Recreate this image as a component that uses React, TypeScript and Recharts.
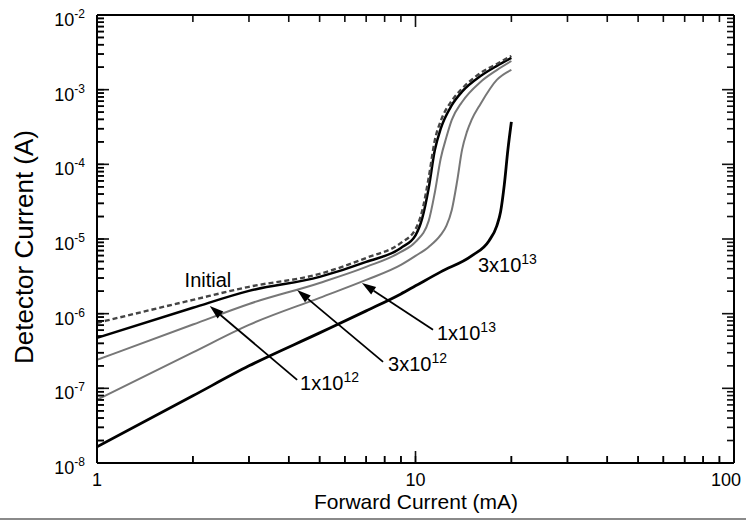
import React from 'react';
import { LineChart, Line, XAxis, YAxis, ReferenceLine, ReferenceDot, Customized } from 'recharts';

// Forward current (mA) and detector current (A) for each fluence
const initialX = [1, 2, 3, 5, 7, 9, 10, 10.5, 11, 11.5, 12, 13, 14, 16, 18, 20];
const initialY = [7.53e-7, 1.53e-6, 2.29e-6, 3.41e-6, 5.58e-6, 8.87e-6, 1.35e-5, 2.4e-5, 6.6e-5, 2.1e-4, 3.8e-4, 7.1e-4, 1.03e-3, 1.67e-3, 2.21e-3, 2.83e-3];

const f1e12X = [1, 2, 3, 5, 7, 9, 10, 10.5, 11, 11.5, 12, 13, 14, 16, 18, 20];
const f1e12Y = [4.74e-7, 1.2e-6, 2.02e-6, 3.11e-6, 4.93e-6, 7.6e-6, 1.12e-5, 1.9e-5, 4.8e-5, 1.55e-4, 3.0e-4, 6.2e-4, 9.4e-4, 1.52e-3, 2.08e-3, 2.66e-3];

const f3e12X = [1, 2, 3, 5, 7, 9, 10, 11, 11.5, 12, 12.5, 13, 14, 16, 18, 20];
const f3e12Y = [2.41e-7, 7.15e-7, 1.35e-6, 2.58e-6, 4.23e-6, 6.71e-6, 9.14e-6, 1.75e-5, 4.2e-5, 1.2e-4, 2.3e-4, 3.93e-4, 6.85e-4, 1.27e-3, 1.83e-3, 2.42e-3];

const f1e13X = [1, 2, 3, 5, 7, 9, 10, 11, 12, 12.5, 13, 13.5, 14, 14.5, 15, 16, 18, 20];
const f1e13Y = [7.02e-8, 3.03e-7, 7.08e-7, 1.63e-6, 2.83e-6, 4.5e-6, 5.94e-6, 7.84e-6, 1.135e-5, 1.5e-5, 2.45e-5, 5.81e-5, 1.56e-4, 2.72e-4, 3.93e-4, 6.44e-4, 1.35e-3, 1.84e-3];

const f3e13X = [1, 2, 3, 5, 7, 9, 10, 12, 15, 17, 18, 18.5, 19, 19.5, 20];
const f3e13Y = [1.65e-8, 7.94e-8, 2.0e-7, 5.53e-7, 1.09e-6, 1.84e-6, 2.36e-6, 3.63e-6, 5.94e-6, 9.43e-6, 1.5e-5, 2.31e-5, 5.3e-5, 1.56e-4, 3.7e-4];

// Axis ticks
const xTicks = [1, 2, 3, 4, 5, 6, 7, 8, 9, 10, 20, 30, 40, 50, 60, 70, 80, 90, 100];
const yTicks = [
  1e-8, 2e-8, 3e-8, 4e-8, 5e-8, 6e-8, 7e-8, 8e-8, 9e-8,
  1e-7, 2e-7, 3e-7, 4e-7, 5e-7, 6e-7, 7e-7, 8e-7, 9e-7,
  1e-6, 2e-6, 3e-6, 4e-6, 5e-6, 6e-6, 7e-6, 8e-6, 9e-6,
  1e-5, 2e-5, 3e-5, 4e-5, 5e-5, 6e-5, 7e-5, 8e-5, 9e-5,
  1e-4, 2e-4, 3e-4, 4e-4, 5e-4, 6e-4, 7e-4, 8e-4, 9e-4,
  1e-3, 2e-3, 3e-3, 4e-3, 5e-3, 6e-3, 7e-3, 8e-3, 9e-3,
  1e-2,
];
const X_MIN = 1;
const X_MAX = 100;
const Y_MIN = 1e-8;
const Y_MAX = 1e-2;

// Annotations (data coordinates)
const labelMain = ['Initial', '1x10', '3x10', '1x10', '3x10'];
const labelSup = ['', '12', '12', '13', '13'];
const labelX = [2.23, 4.34, 8.2, 11.68, 15.7];
const labelY = [2.84e-6, 1.19e-7, 2.13e-7, 5.53e-7, 4.5e-6];
const labelAnchor = ['middle', 'start', 'start', 'start', 'start'];

const arrowTailX = [4.25, 7.91, 11.35];
const arrowTailY = [1.3e-7, 2.26e-7, 6.07e-7];
const arrowTipX = [2.26, 4.25, 6.79];
const arrowTipY = [1.27e-6, 2.08e-6, 2.58e-6];

const FONT = '"Liberation Sans", Arial, Helvetica, sans-serif';

const pts = (xs: number[], ys: number[]) => xs.map((x, i) => ({ x, y: ys[i] }));

const isMajor = (v: number) => {
  const l = Math.log10(v);
  return Math.abs(l - Math.round(l)) < 1e-6;
};

// tick-mark lengths expressed as multiplicative factors on the log axes
const PX_PER_DECADE_X = 318.5;
const PX_PER_DECADE_Y = 74.7;
const fx = (v: number) => Math.pow(10, (isMajor(v) ? 12 : 7) / PX_PER_DECADE_X);
const fy = (v: number) => Math.pow(10, (isMajor(v) ? 12 : 7) / PX_PER_DECADE_Y);

const LeftTick = (props: any) => {
  const x = Number(props.x);
  const y = Number(props.y);
  const v = props.payload.value;
  if (!isMajor(v)) return <g />;
  return (
    <text x={x - 12} y={y + 11} textAnchor="end" fontSize={18} fontFamily={FONT} fill="#000">
      <tspan>10</tspan>
      <tspan dy={-8} fontSize={12}>{String(Math.round(Math.log10(v)))}</tspan>
    </text>
  );
};

const BottomTick = (props: any) => {
  const x = Number(props.x);
  const y = Number(props.y);
  const v = props.payload.value;
  if (!isMajor(v)) return <g />;
  return (
    <text x={v === 100 ? x - 8 : x} y={y + 23} textAnchor="middle" fontSize={18} fontFamily={FONT} fill="#000">
      {String(v)}
    </text>
  );
};

const TickSegShape = (props: any) => {
  const x1 = Number(props.x1);
  const y1 = Number(props.y1);
  const x2 = Number(props.x2);
  const y2 = Number(props.y2);
  const horizontal = Math.abs(y2 - y1) < Math.abs(x2 - x1);
  if (horizontal) {
    return <rect x={Math.min(x1, x2)} y={y1 - 0.8} width={Math.abs(x2 - x1)} height={1.6} fill="#111" />;
  }
  return <rect x={x1 - 0.8} y={Math.min(y1, y2)} width={1.6} height={Math.abs(y2 - y1)} fill="#111" />;
};

const ArrowShape = (props: any) => {
  const { x1, y1, x2, y2 } = props;
  const dx = x2 - x1;
  const dy = y2 - y1;
  const L = Math.sqrt(dx * dx + dy * dy) || 1;
  const ux = dx / L;
  const uy = dy / L;
  const head = 14;
  const hw = 4.5;
  const bx = x2 - ux * head;
  const by = y2 - uy * head;
  const p1 = `${x2},${y2}`;
  const p2 = `${bx - uy * hw},${by + ux * hw}`;
  const p3 = `${bx + uy * hw},${by - ux * hw}`;
  return (
    <g>
      <line x1={x1} y1={y1} x2={bx} y2={by} stroke="#000" strokeWidth={1.8} />
      <polygon points={`${p1} ${p2} ${p3}`} fill="#000" />
    </g>
  );
};

const makeLabelShape = (i: number) => (props: any) => {
  const { cx, cy } = props;
  return (
    <text x={cx} y={cy + 7} textAnchor={labelAnchor[i] as any} fontSize={20} fontFamily={FONT} fill="#000">
      <tspan>{labelMain[i]}</tspan>
      {labelSup[i] ? <tspan dy={-8} fontSize={14}>{labelSup[i]}</tspan> : null}
    </text>
  );
};

const Titles = () => (
  <g>
    <text x={416} y={509} textAnchor="middle" fontSize={21} fontFamily={FONT} fill="#000">
      Forward Current (mA)
    </text>
    <text
      x={33}
      y={247}
      transform="rotate(-90 33 247)"
      textAnchor="middle"
      fontSize={26}
      fontFamily={FONT}
      fill="#000"
    >
      Detector Current (A)
    </text>
  </g>
);

export default function App() {
  const axisLine = { stroke: '#000', strokeWidth: 2 };
  const tickLine = { stroke: '#000', strokeWidth: 1.5 };
  const tickSegs: any[] = [];
  yTicks.forEach((v) => {
    if (v > Y_MIN && v < Y_MAX) {
      tickSegs.push([{ x: X_MIN, y: v }, { x: X_MIN * fx(v), y: v }]);
      tickSegs.push([{ x: X_MAX / fx(v), y: v }, { x: X_MAX, y: v }]);
    }
  });
  xTicks.forEach((v) => {
    if (v > X_MIN && v < X_MAX) {
      tickSegs.push([{ x: v, y: Y_MIN }, { x: v, y: Y_MIN * fy(v) }]);
      tickSegs.push([{ x: v, y: Y_MAX / fy(v) }, { x: v, y: Y_MAX }]);
    }
  });
  return (
    <div style={{ position: 'absolute', left: 0, top: 0, width: 746, height: 525 }}>
      <LineChart
        width={746}
        height={525}
        margin={{ top: 10, right: 7, bottom: 32, left: 37 }}
      >
        <XAxis
          xAxisId="b"
          orientation="bottom"
          type="number"
          dataKey="x"
          scale="log"
          domain={[X_MIN, X_MAX]}
          allowDataOverflow
          ticks={xTicks}
          interval={0}
          height={30}
          tickSize={-7}
          tickMargin={7}
          tickLine={tickLine}
          axisLine={axisLine}
          tick={BottomTick}
        />
        <XAxis
          xAxisId="t"
          orientation="top"
          type="number"
          dataKey="x"
          scale="log"
          domain={[X_MIN, X_MAX]}
          allowDataOverflow
          ticks={xTicks}
          interval={0}
          height={5}
          tickSize={-7}
          tickMargin={7}
          tickLine={tickLine}
          axisLine={axisLine}
          tick={false}
        />
        <YAxis
          yAxisId="l"
          orientation="left"
          type="number"
          scale="log"
          domain={[Y_MIN, Y_MAX]}
          allowDataOverflow
          ticks={yTicks}
          interval={0}
          width={60}
          tickSize={-7}
          tickMargin={7}
          tickLine={tickLine}
          axisLine={axisLine}
          tick={LeftTick}
        />
        <YAxis
          yAxisId="r"
          orientation="right"
          type="number"
          scale="log"
          domain={[Y_MIN, Y_MAX]}
          allowDataOverflow
          ticks={yTicks}
          interval={0}
          width={5}
          tickSize={-7}
          tickMargin={7}
          tickLine={tickLine}
          axisLine={axisLine}
          tick={false}
        />

        {tickSegs.map((seg, i) => (
          <ReferenceLine
            key={`ts${i}`}
            xAxisId="b"
            yAxisId="l"
            segment={seg}
            ifOverflow="visible"
            stroke="#111"
            shape={TickSegShape}
          />
        ))}

        <Line data={pts(f3e13X, f3e13Y)} dataKey="y" xAxisId="b" yAxisId="l" type="monotone" stroke="#000" strokeWidth={2.8} dot={false} activeDot={false} isAnimationActive={false} />
        <Line data={pts(f1e13X, f1e13Y)} dataKey="y" xAxisId="b" yAxisId="l" type="monotone" stroke="#777" strokeWidth={2} dot={false} activeDot={false} isAnimationActive={false} />
        <Line data={pts(f3e12X, f3e12Y)} dataKey="y" xAxisId="b" yAxisId="l" type="monotone" stroke="#777" strokeWidth={2} dot={false} activeDot={false} isAnimationActive={false} />
        <Line data={pts(f1e12X, f1e12Y)} dataKey="y" xAxisId="b" yAxisId="l" type="monotone" stroke="#000" strokeWidth={2.5} dot={false} activeDot={false} isAnimationActive={false} />
        <Line data={pts(initialX, initialY)} dataKey="y" xAxisId="b" yAxisId="l" type="monotone" stroke="#444" strokeWidth={2.4} strokeDasharray="5 3" dot={false} activeDot={false} isAnimationActive={false} />

        {arrowTailX.map((_, i) => (
          <ReferenceLine
            key={`a${i}`}
            xAxisId="b"
            yAxisId="l"
            segment={[
              { x: arrowTailX[i], y: arrowTailY[i] },
              { x: arrowTipX[i], y: arrowTipY[i] },
            ]}
            stroke="#000"
            shape={ArrowShape}
          />
        ))}
        {labelMain.map((_, i) => (
          <ReferenceDot
            key={`l${i}`}
            xAxisId="b"
            yAxisId="l"
            x={labelX[i]}
            y={labelY[i]}
            r={1}
            shape={makeLabelShape(i)}
          />
        ))}
        <Customized component={Titles} />
      </LineChart>
      <div style={{ position: 'absolute', left: 0, top: 518, width: 746, height: 2, background: '#8a8a8a' }} />
    </div>
  );
}
